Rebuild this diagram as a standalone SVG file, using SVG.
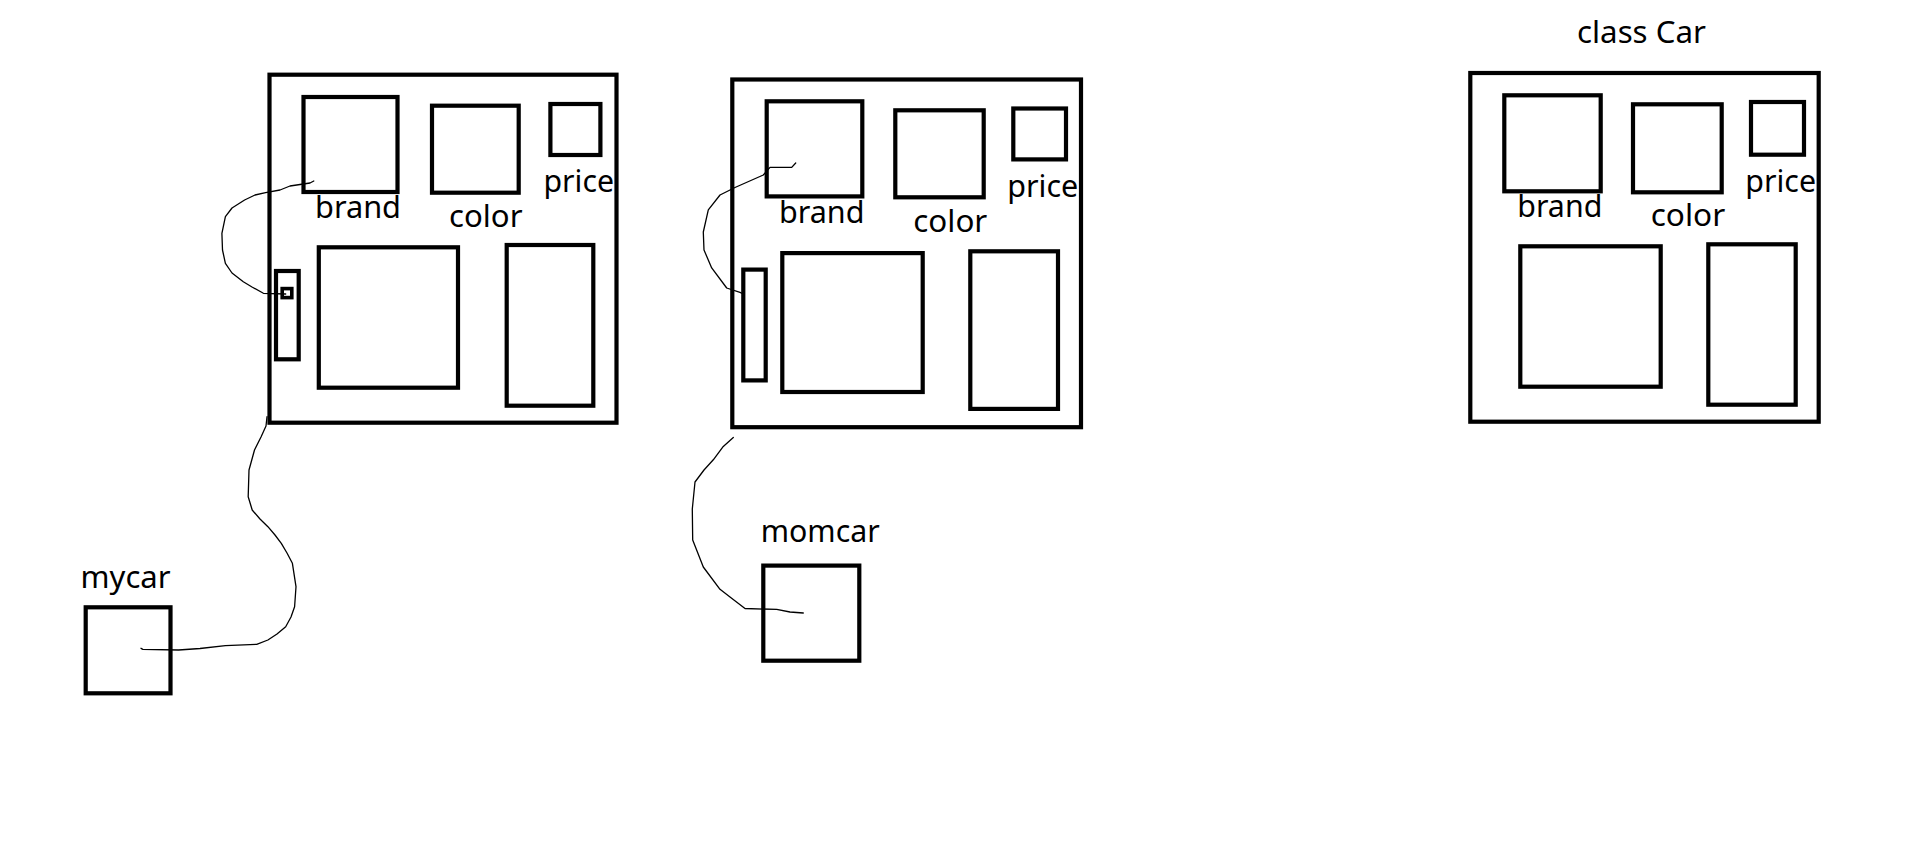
<svg xmlns="http://www.w3.org/2000/svg" width="1907" height="854" viewBox="0 0 1907 854">
<style>
.b{fill:none;stroke:#000;stroke-width:4.2}
.t{font-family:"Noto Sans","Open Sans","DejaVu Sans",sans-serif;font-size:30px;fill:#000}
.c{fill:none;stroke:#000;stroke-width:1.3;stroke-linejoin:round;stroke-linecap:round}
</style>
<rect width="1907" height="854" fill="#fff"/>
<g id="mycar-object">
<rect class="b" x="269.5" y="74.7" width="347" height="348"/>
<rect class="b" x="303.5" y="97" width="94" height="95"/>
<rect class="b" x="432" y="105.7" width="86.7" height="87"/>
<rect class="b" x="550.4" y="104" width="50" height="51"/>
<text class="t" x="315" y="218.3" textLength="86" lengthAdjust="spacingAndGlyphs">brand</text>
<text class="t" x="449" y="227" textLength="73.5" lengthAdjust="spacingAndGlyphs">color</text>
<text class="t" x="543.5" y="192.3" textLength="70.5" lengthAdjust="spacingAndGlyphs">price</text>
<rect class="b" x="276" y="271" width="22.7" height="88.3"/>
<rect x="282.2" y="288.6" width="9.6" height="9" fill="none" stroke="#000" stroke-width="3.6"/>
<rect class="b" x="318.8" y="247.3" width="139.2" height="140.4"/>
<rect class="b" x="506.7" y="245" width="86.6" height="160.7"/>
</g>
<g id="momcar-object">
<rect class="b" x="732.3" y="79.5" width="348.7" height="347.7"/>
<rect class="b" x="766.7" y="101.3" width="95.6" height="95.1"/>
<rect class="b" x="895.3" y="110.3" width="88.4" height="87"/>
<rect class="b" x="1013.3" y="108.5" width="52.7" height="50.9"/>
<text class="t" x="779" y="223.2" textLength="85.5" lengthAdjust="spacingAndGlyphs">brand</text>
<text class="t" x="913.3" y="232" textLength="74" lengthAdjust="spacingAndGlyphs">color</text>
<text class="t" x="1007.3" y="197.3" textLength="71" lengthAdjust="spacingAndGlyphs">price</text>
<rect class="b" x="743.3" y="269.6" width="22.4" height="110.8"/>
<rect class="b" x="782.3" y="253.1" width="140.4" height="138.9"/>
<rect class="b" x="970.3" y="251.3" width="87.7" height="157.6"/>
</g>
<g id="class-car">
<text class="t" x="1577" y="43.3" textLength="129" lengthAdjust="spacingAndGlyphs">class Car</text>
<rect class="b" x="1470.3" y="73" width="348.4" height="348.7"/>
<rect class="b" x="1504.3" y="95.3" width="96.4" height="96"/>
<rect class="b" x="1633" y="104.3" width="88.7" height="88"/>
<rect class="b" x="1751" y="102" width="53" height="52.7"/>
<text class="t" x="1517.3" y="217.3" textLength="85" lengthAdjust="spacingAndGlyphs">brand</text>
<text class="t" x="1650.7" y="226" textLength="74.5" lengthAdjust="spacingAndGlyphs">color</text>
<text class="t" x="1745.3" y="191.7" textLength="70.7" lengthAdjust="spacingAndGlyphs">price</text>
<rect class="b" x="1520.3" y="246.3" width="140.4" height="140.4"/>
<rect class="b" x="1708.3" y="244.3" width="87.4" height="160.4"/>
</g>
<g id="mycar">
<text class="t" x="80.6" y="588.3" textLength="90" lengthAdjust="spacingAndGlyphs">mycar</text>
<rect class="b" x="85.7" y="607.3" width="84.8" height="86"/>
</g>
<g id="momcar">
<text class="t" x="760.7" y="542.4" textLength="119" lengthAdjust="spacingAndGlyphs">momcar</text>
<rect class="b" x="763.3" y="565.6" width="96" height="95.1"/>
</g>
<g id="connectors">
<path class="c" d="M313.8,181 L310,183 L290,186 L280,190 L265.6,192.7 L255,195 L244.6,200 L232,208 L225.4,216.7 L221.9,233.3 L222.5,250 L225.4,263.3 L232,273 L243.3,281.7 L252,287 L263.4,293.3 L285.7,294"/>
<path class="c" d="M267,416.7 L266,426 L261,437 L254.5,450 L249,470 L248.2,496.7 L252.2,510 L260,519 L267.9,526.7 L275,535 L281.3,543.3 L287,553 L292.4,563.3 L296,586.7 L294.6,606.7 L291,617 L285.7,626.7 L277,634 L267.9,640 L256.7,644.3 L225.4,645.7 L200,648.5 L178.6,650 L142.9,649.3 L141,648.3"/>
<path class="c" d="M795.7,163 L791.7,167.4 L770,167.4 L763.3,175 L735,187.5 L720,195 L708.3,209.8 L703.3,232 L704,250 L711.7,267.9 L726.7,288 L740,292.4 L741.7,293.3"/>
<path class="c" d="M733.3,437.5 L723.3,446.4 L713.3,459.8 L704,470 L695,482 L692.3,509 L692.7,540 L703.3,567 L720,589.3 L730,597 L745,608.5 L776.7,609.4 L790,612 L803.3,613"/>
</g>
</svg>
